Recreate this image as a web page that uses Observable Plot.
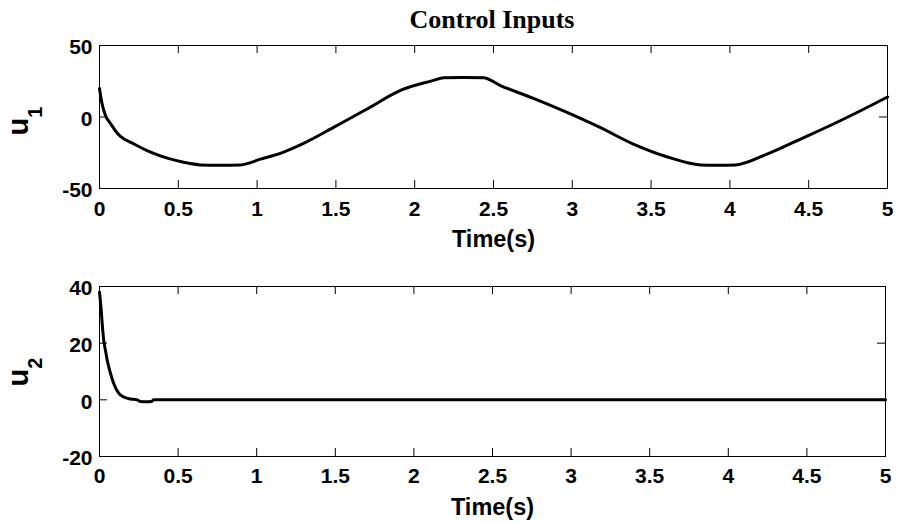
<!DOCTYPE html>
<html>
<head>
<meta charset="utf-8">
<script src="https://cdn.jsdelivr.net/npm/d3@7"></script>
<script src="https://cdn.jsdelivr.net/npm/@observablehq/plot@0.6"></script>
<style>
  body { margin: 0; background: #fff; }
  #wrap { position: relative; width: 904px; height: 522px; overflow: hidden; background: #fff; }
  #wrap svg { position: absolute; left: 0; }
  #title { position: absolute; left: 342px; top: 7px; width: 300px; text-align: center;
           font-family: "Liberation Serif", "Times New Roman", serif; font-weight: bold;
           font-size: 26px; line-height: 26px; color: #000; white-space: nowrap; }
</style>
</head>
<body>
<div id="wrap"></div>
<script>
// ---- data ----
const chartTitle = "Control Inputs";
const xLabel = "Time(s)";
const xTicks = [0, 0.5, 1, 1.5, 2, 2.5, 3, 3.5, 4, 4.5, 5];
const u1Ticks = [-50, 0, 50];
const u2Ticks = [-20, 0, 20, 40];

const u1Time = [0, 0.015, 0.038, 0.07, 0.091, 0.112, 0.133, 0.216, 0.324, 0.431, 0.533, 0.641, 0.76, 0.895,
  1.022, 1.168, 1.275, 1.485, 1.701, 1.91, 2.119, 2.183, 2.31, 2.437, 2.544, 2.754, 2.97, 3.179, 3.388,
  3.604, 3.814, 3.92, 4.036, 4.239, 4.448, 4.657, 4.873, 5.0];
const u1Value = [20, 10, 1, -4.6, -8, -11.2, -13.5, -18.7, -24.6, -28.8, -31.6, -33.5, -33.8, -33.5,
  -29.5, -24.5, -19.5, -7.3, 5.8, 18.6, 25.6, 27.5, 27.7, 27.5, 22, 13, 3, -7.5, -19,
  -28, -33.5, -33.8, -33.5, -25.8, -15.4, -4.9, 6.8, 14];

const u2Time = [0, 0.011, 0.017, 0.027, 0.038, 0.049, 0.07, 0.091, 0.122, 0.154, 0.197, 0.24, 0.26,
  0.3, 0.33, 0.345, 0.5, 1, 2, 3, 4, 5];
const u2Value = [38, 31.5, 27, 21, 17.4, 14, 9.3, 5.7, 2.4, 1.0, 0.3, 0, -0.6,
  -0.7, -0.6, 0, 0, 0, 0, 0, 0, 0];

// ---- drawing ----
const wrap = document.getElementById("wrap");
const FONT = "'Liberation Sans', Arial, Helvetica, sans-serif";
const TICK = 8;

function panel(cfg) {
  const W = 904;
  const innerW = W - 99 - cfg.mRight;
  const innerH = cfg.height - cfg.mTop - cfg.mBottom;
  const rows = cfg.times.map((t, i) => ({t, v: cfg.values[i]}));
  const svg = Plot.plot({
    width: W,
    height: cfg.height,
    marginLeft: 99,
    marginRight: cfg.mRight,
    marginTop: cfg.mTop,
    marginBottom: cfg.mBottom,
    style: {fontFamily: FONT, fontWeight: "bold", fontSize: "21px", color: "black", background: "white", overflow: "visible"},
    x: {domain: [0, 5], label: null},
    y: {domain: cfg.yDomain, label: null},
    marks: [
      Plot.ruleX(xTicks, {x: d => d, insetTop: innerH - TICK, stroke: "black", strokeWidth: 1}),
      Plot.ruleX(xTicks, {x: d => d, insetBottom: innerH - TICK, stroke: "black", strokeWidth: 1}),
      Plot.ruleY(cfg.yTicks, {y: d => d, insetRight: innerW - TICK, stroke: "black", strokeWidth: 1}),
      Plot.ruleY(cfg.yTicks, {y: d => d, insetLeft: innerW - TICK, stroke: "black", strokeWidth: 1}),
      Plot.line(rows, {x: "t", y: "v", curve: "monotone-x", stroke: "black", strokeWidth: 3, strokeLinejoin: "round", strokeLinecap: "round"}),
      Plot.frame({stroke: "black", strokeWidth: 1}),
      Plot.axisX(xTicks, {tickSize: 0, tickPadding: cfg.xPad, tickFormat: d => String(d), label: null, fontSize: 21, fontWeight: "bold"}),
      Plot.axisY(cfg.yTicks, {tickSize: 0, tickPadding: 7, dy: 2, tickFormat: d => String(d), label: null, fontSize: 21, fontWeight: "bold"}),
      Plot.text([xLabel], {frameAnchor: "bottom", lineAnchor: "middle", dy: cfg.xLabelDy, fontSize: 23.5, fontWeight: "bold", fill: "black"})
    ]
  });
  svg.style.top = cfg.top + "px";
  const lab = d3.select(svg).append("text")
    .attr("transform", `translate(28, ${cfg.labelY - cfg.top}) rotate(-90)`)
    .attr("text-anchor", "middle")
    .attr("font-family", FONT)
    .attr("font-weight", "bold")
    .attr("fill", "black");
  lab.append("tspan").attr("font-size", 29).text("u");
  lab.append("tspan").attr("font-size", 20).attr("dy", 14).text(cfg.sub);
  wrap.appendChild(svg);
}

panel({times: u1Time, values: u1Value, yDomain: [-50, 50], yTicks: u1Ticks,
  top: 0, height: 260, mTop: 45, mBottom: 72, mRight: 17, xPad: 13, xLabelDy: 51,
  sub: "1", labelY: 121});
panel({times: u2Time, values: u2Value, yDomain: [-20, 40], yTicks: u2Ticks,
  top: 260, height: 262, mTop: 26, mBottom: 66, mRight: 19, xPad: 12, xLabelDy: 50.5,
  sub: "2", labelY: 372});

const t = document.createElement("div");
t.id = "title";
t.textContent = chartTitle;
wrap.appendChild(t);
</script>
</body>
</html>
